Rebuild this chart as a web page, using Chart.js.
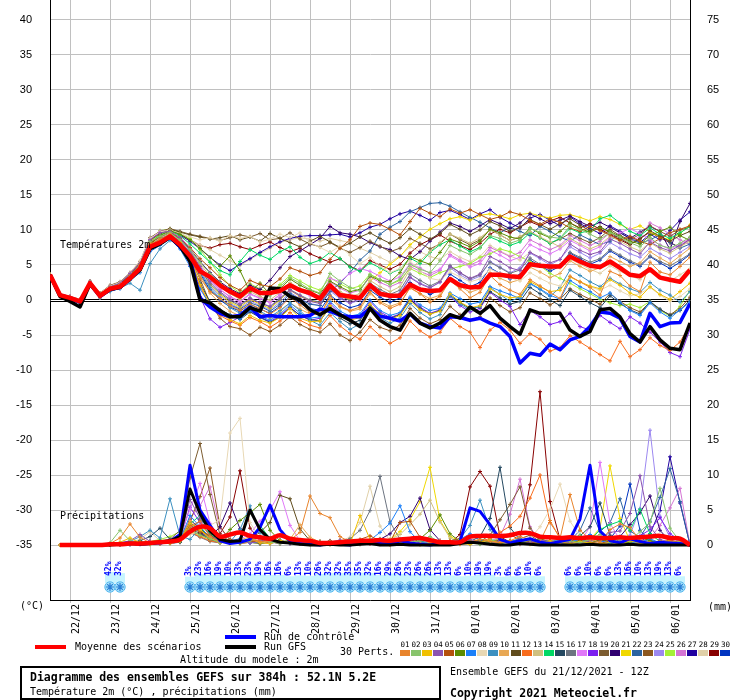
<!DOCTYPE html>
<html><head><meta charset="utf-8">
<script src="https://cdn.jsdelivr.net/npm/chart.js@4.4.0/dist/chart.umd.min.js"></script>
<style>
html,body{margin:0;padding:0;background:#fff;}
#wrap{position:relative;width:740px;height:700px;overflow:hidden;background:#fff;}
#c{position:absolute;left:0;top:0;}
.t{position:absolute;font-family:"DejaVu Sans Mono",monospace;font-size:10px;line-height:12px;color:#000;white-space:nowrap;}
.b{font-weight:bold;font-size:11.5px;line-height:14px;}
.ln{position:absolute;height:4px;}
.sw{position:absolute;width:10px;height:6px;top:650px;}
.nm{position:absolute;top:641px;width:12px;text-align:center;font-family:"DejaVu Sans Mono",monospace;font-size:7.5px;line-height:8px;color:#000;}
#box{position:absolute;left:20px;top:666px;width:421px;height:34px;border:2px solid #000;box-sizing:border-box;}
</style></head><body>
<div id="wrap">
<canvas id="c" width="740" height="700"></canvas>
<div class="t" style="left:60px;top:239px;">Températures 2m</div>
<div class="t" style="left:60px;top:510px;">Précipitations</div>
<div class="t" style="left:20px;top:600px;">(°C)</div>
<div class="t" style="left:708px;top:601px;">(mm)</div>
<div class="ln" style="left:35px;top:645px;width:31px;background:#ff0000;"></div>
<div class="t" style="left:75px;top:641px;">Moyenne des scénarios</div>
<div class="ln" style="left:225px;top:635px;width:31px;background:#0000ff;"></div>
<div class="t" style="left:264px;top:631px;">Run de contrôle</div>
<div class="ln" style="left:225px;top:645px;width:31px;background:#000;"></div>
<div class="t" style="left:264px;top:641px;">Run GFS</div>
<div class="t" style="left:340px;top:646px;">30 Perts.</div>
<div class="t" style="left:180px;top:654px;">Altitude du modele : 2m</div>
<div id="box"></div>
<div class="t b" style="left:30px;top:670px;">Diagramme des ensembles GEFS sur 384h : 52.1N 5.2E</div>
<div class="t" style="left:30px;top:686px;">Température 2m (°C) , précipitations (mm)</div>
<div class="t" style="left:450px;top:666px;">Ensemble GEFS du 21/12/2021 - 12Z</div>
<div class="t b" style="left:450px;top:686px;">Copyright 2021 Meteociel.fr</div>
</div>
<script>
// ---- categories / ticks ----
const dayLabels = ["22/12","23/12","24/12","25/12","26/12","27/12","28/12","29/12","30/12","31/12","01/01","02/01","03/01","04/01","05/01","06/01"];
const dayTickSteps = [2,6,10,14,18,22,26,30,34,38,42,46,50,54,58,62];
const tempTicks = [-35,-30,-25,-20,-15,-10,-5,0,5,10,15,20,25,30,35,40];
const mmTicks = [0,5,10,15,20,25,30,35,40,45,50,55,60,65,70,75];
const memberNames = ["01","02","03","04","05","06","07","08","09","10","11","12","13","14","15","16","17","18","19","20","21","22","23","24","25","26","27","28","29","30"];
const memberColors = ["#e8842c","#88c46c","#f0c000","#8c54b0","#b4500c","#5c8c00","#1c80f8","#e8d8b4","#3c90c0","#e8a854","#604c1c","#f86c1c","#d0c080","#00d864","#244860","#6c7480","#e078f8","#7c20f0","#7c5c30","#300070","#f0d800","#2c64a0","#8c5820","#9c88f0","#a4f038","#d474d4","#2000a0","#e0d0a8","#880000","#0034c0"];

// ---- temperature (°C), 6-hourly steps 0..64 ----
const meanT = [3.6,0.7,0.3,-0.2,2.4,0.6,1.6,1.9,3.1,4.5,7.6,8.2,9.1, 7.9,6.3,4.1,3.3,2.1,1.2,0.5,1.7,1.0,1.0,1.3,2.1,1.4, 1.0,0.2,2.1,0.7,0.5,0.3,2.1,0.9,0.6,0.6,2.2,1.5,1.3, 1.4,3.0,2.1,1.8,1.9,3.6,3.6,3.4,3.3,5.1,4.9,4.8,4.8, 6.2,5.5,4.9,4.7,5.5,4.6,3.6,3.4,4.4,3.2,2.9,2.6,4.3];
const ctrlT = [3.6,0.6,0.2,-0.3,2.3,0.5,1.5,1.8,3.0,4.4,7.4,8.1,9.0, 7.6,5.9,0.3,-1.0,-1.9,-2.4,-2.2,-1.0,-2.4,-2.2,-2.4,-2.4,-2.4, -2.2,-1.3,-1.6,-2.2,-2.4,-2.4,-1.2,-2.3,-2.6,-3.0,-2.0,-3.3,-3.8, -4.0,-2.4,-2.5,-2.9,-2.6,-3.3,-3.8,-5.2,-9.0,-7.6,-7.9,-6.3,-7.1, -5.7,-5.2,-3.8,-1.7,-1.9,-2.6,-5.2,-6.0,-1.9,-3.8,-3.3,-3.2,-0.5];
const gfsT = [3.6,0.5,-0.2,-1.0,2.3,0.6,1.5,1.8,3.0,4.3,7.3,8.0,9.0, 7.7,5.5,0.0,-0.4,-1.5,-2.4,-2.4,-1.1,-1.6,1.7,1.6,0.5,0.0, -1.4,-2.1,-1.2,-2.1,-2.9,-3.8,-1.2,-2.9,-3.8,-4.3,-1.9,-3.3,-4.0, -3.3,-2.1,-2.6,-1.0,-1.9,-0.8,-2.6,-3.8,-4.9,-1.4,-1.9,-1.9,-1.9, -4.3,-5.2,-4.5,-1.4,-1.2,-2.4,-4.8,-6.0,-3.8,-5.7,-6.9,-7.1,-3.3];
const t01 = [3.6,0.8,0.2,-0.3,2.5,0.4,1.8,2.2,3.3,4.9,8.0,8.6,9.4, 8.1,6.0,3.1,1.2,0.2,-0.8,-1.5,-0.6,-1.2,-2.0,-1.1,0.4,-0.7, -1.8,-2.2,0.6,-0.9,-1.5,-1.0,1.2,-0.4,-1.2,-0.6,1.8,0.9,-0.3, 0.5,2.8,1.6,0.3,1.1,3.5,2.2,1.4,0.8,2.9,2.0,1.1,0.2, 3.4,2.6,1.8,0.7,4.1,3.5,2.0,1.2,5.4,4.0,3.6,4.8,6.1];
const t02 = [3.6,0.6,0.4,-0.1,2.3,0.7,1.5,2.0,3.4,5.0,8.3,9.1,9.6, 8.6,7.2,5.4,3.8,2.5,1.2,0.4,1.6,0.8,0.6,1.9,3.2,2.4, 1.5,1.0,3.8,2.7,1.8,1.3,3.6,2.9,2.2,3.0,5.1,4.4,3.9, 5.6,7.8,7.1,6.5,7.4,9.2,8.8,8.1,8.6,10.2,9.7,9.0,8.8, 10.6,10.1,9.4,8.7,9.6,9.0,8.2,7.6,8.9,7.8,7.4,8.1,9.0];
const t03 = [3.6,0.7,0.1,-0.4,2.2,0.5,1.4,1.8,2.9,4.2,7.4,8.4,9.3, 8.2,6.1,2.2,-0.6,-1.9,-2.8,-3.4,-2.2,-2.9,-3.3,-2.5,-1.2,-2.6, -3.1,-3.0,-0.8,-2.4,-2.9,-2.5,-0.6,-2.1,-2.8,-2.2,-0.1,-1.4,-2.0, -1.6,0.9,-0.3,-1.1,-0.8,1.6,0.8,0.3,0.5,2.6,1.9,1.2,1.4, 3.3,2.6,2.0,1.6,2.9,2.1,1.0,0.4,1.9,0.8,0.1,1.2,2.4];
const t04 = [3.6,0.9,0.5,0.0,2.6,0.8,1.9,2.4,3.8,5.2,8.6,9.6,9.8, 8.9,7.0,4.8,2.6,1.2,0.1,-0.6,0.2,-0.4,-0.9,0.3,1.4,0.6, -0.2,-0.5,1.5,0.4,-0.4,0.2,2.0,1.1,0.3,0.9,3.2,2.3,1.7, 2.6,4.8,3.9,3.1,3.7,6.2,5.5,4.6,4.2,6.8,6.1,5.3,5.8, 8.0,7.1,6.5,6.9,8.7,8.1,7.3,6.6,8.3,7.5,7.0,7.8,8.6];
const t05 = [3.6,0.7,0.4,-0.2,2.4,0.9,1.7,2.1,3.5,5.1,8.2,9.0,9.7, 8.8,7.5,5.9,4.6,3.2,2.1,1.4,2.8,2.2,1.9,3.0,4.6,4.1, 3.5,3.9,5.8,7.4,8.6,10.5,11.0,10.8,10.1,9.3,11.2,13.1,12.4, 11.9,13.0,12.4,12.9,12.2,11.5,11.9,12.6,12.2,11.4,10.8,11.6,11.1, 10.3,9.8,10.5,9.9,9.3,8.5,9.1,8.4,7.9,8.8,9.6,10.1,10.6];
const t06 = [3.6,0.6,0.2,-0.3,2.3,0.5,1.6,2.0,3.2,4.6,7.9,9.2,9.9, 9.4,8.6,7.4,6.1,4.8,6.3,4.2,1.2,2.4,0.8,1.6,3.0,2.1, 1.4,0.9,2.7,1.9,1.2,1.5,3.4,2.8,2.6,3.9,6.2,5.6,5.1, 6.8,8.7,8.2,7.6,8.4,10.1,9.6,9.0,8.7,10.3,9.5,8.9,9.8, 11.0,10.2,9.7,10.3,9.8,9.1,8.4,8.0,9.2,9.8,10.4,9.2,8.5];
const t07 = [3.6,0.5,0.0,-0.5,2.1,0.3,1.3,1.6,2.8,3.9,6.9,7.8,8.7, 7.3,4.8,1.6,-0.7,-1.6,-2.3,-2.7,-1.5,-2.3,-2.9,-2.0,-0.7,-1.9, -2.6,-2.4,-0.2,-1.6,-2.3,-2.0,0.0,-1.5,-2.2,-1.8,0.4,-0.7,-1.5, -1.2,1.0,0.2,-0.6,-0.3,1.9,1.3,0.8,0.2,2.4,1.6,0.7,0.1, 2.8,1.9,1.2,0.3,1.0,-0.3,-1.5,-2.2,-0.4,-1.7,-2.6,-1.4,-0.3];
const t08 = [3.6,0.8,0.5,0.1,2.6,1.0,2.0,2.5,3.9,5.6,8.8,9.7,10.0, 9.5,9.0,8.6,8.9,8.4,9.2,8.8,9.1,8.3,8.7,9.4,8.9,9.6, 8.2,7.5,6.8,7.7,6.4,5.2,6.1,4.8,3.9,4.5,5.6,4.2,3.1, 2.8,4.0,3.3,2.6,3.0,4.4,3.8,3.2,2.7,3.9,3.1,2.4,2.0, 3.3,2.6,1.9,1.4,2.1,1.3,0.6,0.9,1.8,0.7,-0.2,0.5,1.6];
const t09 = [3.6,0.6,0.3,-0.2,2.4,0.4,1.2,1.7,2.4,1.4,5.2,7.3,8.5, 7.9,6.9,4.0,1.8,0.3,-1.1,-1.9,-0.8,-1.6,-2.4,-1.5,-0.4,-1.5, -2.9,-3.6,-1.8,-3.1,-4.2,-3.4,-1.3,-2.5,-3.3,-2.6,-0.5,-1.8,-2.7, -2.1,0.6,-0.6,-1.4,-0.9,1.8,0.8,-0.2,0.4,2.3,1.5,0.5,1.8, 4.3,3.5,2.6,1.9,3.1,2.3,1.6,1.1,2.5,1.4,0.7,-0.3,1.2];
const t10 = [3.6,0.7,0.3,-0.1,2.5,0.6,1.6,2.0,3.1,4.5,7.7,8.6,9.2, 8.3,6.6,3.6,1.0,-0.5,-1.6,-2.3,-1.2,-1.8,-2.6,-1.7,-0.4,-1.3, -2.0,-2.1,0.2,-1.0,-1.6,-1.3,0.9,-0.2,-0.9,-0.4,1.7,0.9,0.2, 0.7,2.9,2.0,1.1,1.6,3.9,3.1,2.5,2.9,4.7,4.0,3.2,3.8, 5.6,4.8,4.1,4.6,6.2,5.5,4.8,5.3,6.9,6.0,5.2,6.3,7.4];
const t11 = [3.6,0.8,0.4,0.0,2.6,0.9,1.9,2.3,3.6,5.3,8.5,9.5,10.1, 9.7,9.3,9.0,8.7,8.9,9.2,8.6,9.0,8.4,9.5,8.8,8.2,7.6, 8.4,9.1,8.3,7.5,8.1,9.0,9.6,8.8,8.1,8.9,10.2,9.4,8.7, 9.5,10.8,10.1,9.3,10.0,11.2,10.6,9.8,10.4,11.5,10.8,10.1,10.9, 11.6,10.7,9.9,10.5,9.6,8.8,8.0,8.7,9.9,9.1,8.4,9.2,9.8];
const t12 = [3.6,0.5,0.1,-0.4,2.2,0.3,1.3,1.7,2.9,4.3,7.5,8.3,9.0, 7.6,5.2,2.0,-0.9,-2.2,-3.0,-3.6,-2.5,-3.1,-3.9,-3.0,-1.8,-2.9, -3.6,-4.0,-2.2,-3.7,-4.8,-5.6,-3.8,-5.1,-6.2,-5.4,-3.0,-4.4,-5.3, -4.6,-2.6,-3.8,-4.6,-6.8,-4.3,-3.2,-4.3,-6.2,-4.8,-5.6,-7.3,-6.8, -5.1,-6.0,-6.9,-7.8,-8.7,-5.9,-8.1,-7.1,-5.4,-6.5,-7.2,-6.0,-3.5];
const t13 = [3.6,0.7,0.3,-0.2,2.4,0.7,1.7,2.1,3.3,4.8,8.0,8.9,9.5, 8.6,7.1,5.2,3.4,2.0,0.9,0.1,1.2,0.5,0.0,1.1,2.5,1.6, 0.8,0.4,2.3,1.2,0.5,0.9,2.8,1.9,1.2,1.9,4.4,5.6,6.9, 8.2,9.4,8.8,8.1,8.9,10.0,9.3,8.5,9.1,9.8,9.0,8.3,7.6, 8.8,8.0,7.3,7.9,9.1,8.4,7.6,7.0,8.2,7.3,6.7,7.6,8.4];
const t14 = [3.6,0.8,0.4,-0.1,2.5,0.8,1.8,2.3,3.5,5.0,8.2,9.3,9.9, 9.2,8.0,6.7,5.4,4.2,3.6,5.5,7.2,6.4,5.8,6.9,7.6,6.1, 5.2,5.7,6.8,5.9,4.7,4.1,5.3,4.6,3.8,4.4,6.0,5.2,6.8, 7.9,8.6,7.7,6.9,7.5,9.0,8.4,7.8,8.3,9.6,8.9,8.1,8.8, 10.2,9.6,9.9,11.6,12.1,11.0,9.8,9.2,10.3,9.4,8.8,9.6,10.5];
const t15 = [3.6,0.6,0.2,-0.3,2.3,0.5,1.5,1.9,3.0,4.4,7.6,8.5,9.2, 8.0,5.6,2.4,-0.3,-1.4,-2.1,-2.8,-1.7,-2.5,-3.2,-2.4,-1.1,-2.2, -2.8,-3.0,-1.0,-2.6,-3.4,-2.9,-0.8,-2.0,-2.6,-2.1,0.1,-1.2,-2.0, -1.5,0.7,-0.4,-1.2,-1.0,1.2,0.3,-0.6,-0.2,1.8,0.9,0.0,-0.8, 1.4,0.5,-0.4,-1.1,0.6,-0.5,-1.4,-2.0,-0.2,-1.3,-2.2,-1.5,0.0];
const t16 = [3.6,0.7,0.2,-0.2,2.4,0.6,1.6,2.0,3.2,4.6,7.8,8.7,9.4, 8.4,6.8,4.5,2.3,1.0,-0.1,-0.8,0.3,-0.4,-1.0,0.1,1.5,0.7, 0.0,-0.3,1.7,0.6,-0.1,0.4,2.4,1.5,0.8,1.4,3.7,2.8,2.0, 2.7,4.9,3.9,3.0,3.6,5.4,4.6,3.8,4.3,6.0,5.1,4.4,5.0, 6.8,6.1,5.4,5.9,7.2,6.4,5.6,5.0,6.3,5.5,4.9,5.7,6.6];
const t17 = [3.6,0.9,0.5,0.0,2.6,0.8,1.8,2.4,3.7,5.4,8.7,9.8,10.0, 9.1,7.4,5.0,2.9,1.5,0.4,-0.3,0.8,0.2,-0.4,0.7,2.0,1.3, 0.6,0.3,3.1,2.6,3.8,4.5,4.1,3.4,2.7,3.3,5.2,4.6,3.8, 4.4,6.3,5.5,4.7,5.2,7.1,6.4,5.6,6.1,7.9,7.2,6.6,7.3, 8.5,7.8,7.0,7.6,8.9,9.6,10.2,9.5,8.6,7.9,7.2,8.0,8.8];
const t18 = [3.6,0.6,0.1,-0.4,2.2,0.4,1.4,1.9,3.2,4.7,8.1,9.0,9.6, 8.2,5.0,0.5,-2.7,-3.9,-3.2,-2.4,-1.6,-2.4,-3.1,-2.2,-1.0,-2.2, -2.9,-2.6,-0.5,-1.9,-2.7,-2.3,-0.2,-1.7,-2.5,-2.0,0.2,-1.0,-1.9, -1.4,0.5,-0.8,-1.7,-1.2,1.1,0.0,-0.9,-3.5,-1.5,-2.4,-3.5,-3.1, -1.9,-3.8,-4.3,-2.2,-3.2,-4.1,-2.4,-3.3,-4.6,-6.0,-7.5,-8.1,-4.2];
const t19 = [3.6,0.8,0.5,0.1,2.7,1.0,2.1,2.6,3.9,5.5,8.9,9.8,10.2, 9.8,9.4,9.1,8.8,8.5,8.9,9.3,9.0,9.5,8.6,8.8,9.6,8.7, 8.0,7.6,8.2,7.4,6.8,7.5,8.4,7.7,6.9,7.4,8.8,8.1,7.3, 8.0,9.4,8.6,7.9,8.6,10.1,9.3,8.5,9.0,9.7,8.9,8.1,8.7, 9.5,8.8,8.2,8.9,10.1,9.2,8.6,9.4,10.6,9.8,9.1,10.0,10.4];
const t20 = [3.6,0.7,0.3,-0.1,2.5,0.8,1.8,2.2,3.4,4.9,8.1,9.0,9.6, 8.7,7.3,5.5,3.9,2.6,1.6,0.9,2.1,1.5,2.8,4.6,6.2,7.0, 7.9,8.8,10.5,9.6,9.4,9.0,8.2,7.6,7.2,6.3,5.8,6.9,8.4, 9.7,11.0,10.5,9.8,10.6,11.5,10.9,10.2,11.0,12.3,11.6,10.9,11.4, 12.0,11.2,10.5,11.1,10.4,9.6,8.8,9.7,10.5,9.8,7.2,11.2,13.8];
const t21 = [3.6,0.8,0.4,0.0,2.5,0.7,1.7,2.2,3.4,5.1,8.4,9.4,9.9, 9.0,7.2,4.6,2.2,0.8,-0.3,-1.0,0.1,-0.6,-1.2,0.0,1.4,0.5, -0.1,-0.4,1.6,0.6,0.1,0.5,2.7,3.9,5.1,6.2,7.9,9.0,10.1, 10.9,11.6,11.9,11.4,12.1,12.3,12.0,11.6,12.2,12.4,12.0,11.7,12.1, 12.2,11.8,11.3,11.9,11.5,10.8,10.1,10.6,9.7,9.0,8.6,9.5,10.7];
const t22 = [3.6,0.6,0.2,-0.3,2.3,0.6,1.5,1.9,3.1,4.4,7.6,8.6,9.3, 8.1,6.2,3.5,1.4,0.2,-0.7,-1.3,-0.4,-0.9,-1.6,-0.6,0.9,0.1, -0.6,-0.8,1.2,2.4,3.9,5.7,7.0,9.4,10.4,11.2,12.6,13.2,13.8, 13.9,13.4,12.6,11.8,11.1,10.3,9.6,10.4,9.8,9.2,10.5,9.8,9.0, 8.4,9.3,8.6,7.9,8.4,9.6,8.8,8.1,8.6,9.3,8.2,7.4,8.0];
const t23 = [3.6,0.7,0.3,-0.2,2.4,0.6,1.6,2.0,3.2,4.6,7.8,8.7,9.3, 8.0,6.0,3.0,-0.4,-2.6,-3.8,-4.1,-5.0,-3.9,-4.5,-3.6,-2.4,-3.5, -4.2,-4.6,-3.4,-5.0,-5.8,-4.6,-2.8,-3.9,-4.4,-3.6,-1.2,-2.6,-3.4, -2.8,-0.9,-2.1,-2.9,-2.4,0.3,-0.8,-1.7,-1.1,1.0,0.2,-0.7,0.1, 1.6,0.8,0.1,-0.6,0.9,-0.2,-1.1,-1.7,-0.3,-1.4,-2.1,-1.2,0.4];
const t24 = [3.6,0.8,0.3,-0.1,2.5,0.7,1.7,2.1,3.3,4.8,8.0,8.9,9.5, 8.5,6.7,4.2,2.0,0.6,-0.5,-1.2,-0.1,-0.8,-1.4,-0.3,1.1,0.2, -0.5,-0.8,1.3,0.2,-0.5,0.0,2.1,1.0,0.3,1.0,3.3,2.4,1.8, 2.5,4.6,3.6,2.8,3.4,5.5,4.7,3.9,4.6,6.7,5.9,5.0,5.8, 7.6,6.8,6.0,6.7,8.2,7.4,6.6,6.1,7.4,6.6,5.9,6.8,7.7];
const t25 = [3.6,0.9,0.4,0.0,2.6,0.9,1.9,2.4,3.7,5.3,8.7,9.9,10.1, 9.6,8.8,7.2,5.4,3.6,2.0,1.0,2.3,1.6,1.0,2.2,3.5,2.7, 1.9,1.4,3.2,2.3,1.6,2.0,3.7,2.9,2.2,2.8,4.5,3.8,3.2, 3.9,4.4,4.8,5.2,6.1,6.6,7.3,6.9,6.2,5.5,4.9,3.8,3.1, 2.4,1.6,0.9,0.1,-0.4,-0.8,-0.6,-1.1,-0.2,-1.5,-2.3,-0.9,1.4];
const t26 = [3.6,0.7,0.3,-0.2,2.4,0.6,1.6,2.0,3.2,4.6,7.9,8.8,9.4, 8.4,6.9,4.7,2.8,1.5,0.5,-0.2,0.9,0.3,-0.3,0.8,2.2,1.5, 0.9,0.6,2.6,1.7,1.0,1.4,3.3,2.5,1.9,2.5,4.8,4.1,3.5, 4.2,6.5,5.7,5.0,5.6,7.5,6.9,6.2,6.8,8.6,7.9,7.2,7.8, 9.2,8.5,7.8,8.4,9.6,9.0,8.3,9.1,11.0,10.3,9.4,8.6,7.9];
const t27 = [3.6,0.8,0.4,0.0,2.6,0.9,1.9,2.4,3.7,5.3,8.6,9.6,10.0, 9.3,8.4,7.3,6.1,5.0,4.2,5.1,5.9,6.8,7.6,8.3,8.8,9.1, 9.2,9.2,9.3,9.4,9.0,9.6,10.4,10.8,11.6,12.3,12.7,12.1,11.4, 12.5,12.8,12.2,11.5,12.3,12.9,11.8,11.0,10.3,11.7,12.2,11.4,10.6, 11.9,10.9,10.2,9.5,10.6,9.8,9.0,8.2,9.4,8.6,9.9,11.4,12.6];
const t28 = [3.6,0.7,0.4,0.0,2.5,0.8,1.8,2.3,3.5,5.0,8.3,9.2,9.7, 9.1,8.5,7.9,7.2,6.4,5.6,4.9,5.8,6.6,7.4,8.2,8.6,8.9, 8.7,8.4,8.8,8.5,8.2,7.4,6.8,6.1,5.4,6.3,7.6,6.9,6.2, 5.8,6.9,6.1,5.5,6.2,7.8,7.0,6.3,5.7,6.8,6.0,5.3,4.6, 5.9,5.1,4.4,3.8,4.9,4.1,3.5,2.9,4.2,3.4,2.7,3.6,4.5];
const t29 = [3.6,0.8,0.5,0.0,2.6,0.9,1.9,2.4,3.7,5.4,8.7,9.7,10.0, 9.4,8.6,7.8,7.4,7.9,8.1,7.6,7.2,7.8,8.3,7.5,6.9,7.4, 6.6,6.0,5.4,5.9,4.8,4.2,5.6,5.0,4.4,5.1,6.7,7.9,8.6, 9.3,8.4,7.8,7.2,8.1,9.4,10.1,9.6,10.4,11.2,10.6,11.3,11.8, 11.0,10.3,10.9,10.1,9.4,8.6,7.9,8.8,9.7,8.9,8.2,7.5,8.9];
const t30 = [3.6,0.6,0.2,-0.3,2.3,0.5,1.5,1.9,3.1,4.5,7.7,8.5,9.2, 8.3,6.4,3.8,1.5,0.0,-1.0,-1.6,-0.6,-1.3,-1.9,-0.9,0.5,-0.5, -1.2,-1.5,0.7,-0.4,-1.1,-0.7,1.4,0.4,-0.3,0.3,2.5,1.6,0.8, 1.4,3.7,2.8,1.9,2.5,4.6,3.8,3.0,3.6,5.7,4.9,4.1,4.8, 6.7,5.9,5.1,5.7,7.0,6.2,5.4,4.8,6.2,5.3,4.5,5.4,6.5];

// ---- precipitation (mm / 6h), steps 0..64 (step 0 not drawn) ----
const meanP = [0,0,0,0,0,0,0.1,0.1,0.2,0.2,0.3,0.4,0.5, 0.8,1.9,2.6,2.4,1.2,1.5,1.8,1.3,1.1,0.9,1.4,0.9,0.7, 0.6,0.3,0.3,0.4,0.5,0.6,0.6,0.7,0.6,0.8,0.9,1.0,0.7, 0.4,0.4,0.4,1.2,1.3,1.3,1.3,1.4,1.7,1.7,1.2,1.1,1.0, 1.1,1.0,1.1,1.0,1.0,1.1,1.0,1.1,1.2,1.3,1.0,0.9,0.0];
const ctrlP = [0,0,0,0,0,0,0.1,0.2,0.3,0.1,0.2,0.3,0.5, 1.5,11.4,5.0,2.8,0.6,0.2,0.4,0.8,2.5,5.7,2.2,0.5,0.2, 0.1,0,0.2,0.1,0,0.3,0.5,0.2,0.1,0.6,0.3,0.1,0, 0.2,0.1,0.5,5.3,4.8,2.9,0.8,0.3,0.6,0.9,0.4,0.2,0.5, 0.8,3.7,11.4,2.0,0.6,0.3,0.9,0.5,0.2,0.4,0.3,0.2,0];
const gfsP = [0,0,0,0,0,0,0,0.1,0.2,0.1,0.2,0.4,0.6, 1.2,8.0,4.5,2.0,0.8,0.5,0.6,5.0,2.2,0.8,0.4,0.3,0.1, 0,0,0.1,0,0,0.1,0.2,0,0,0.1,0,0,0, 0,0,0.2,0.4,0.3,0.1,0,0,0.2,0.1,0,0,0, 0,0,0.1,0,0,0,0.1,0,0,0,0,0,0];
const p01 = [0,0,0,0,0,0,0.2,1.0,3.0,1.1,0.3,0.2,0.4, 0.9,2.6,3.4,1.2,0.5,0.3,0.4,0.8,0.5,0.6,1.3,0.7,1.8, 7.0,4.5,3.9,1.2,0.4,0.2,0.3,0.1,0,0.2,0.4,0.1,0.3, 0.6,0.2,0.1,0.4,0.8,0.5,0.3,0.6,1.2,0.8,0.5,3.5,0.9, 7.2,2.1,0.8,0.4,2.2,3.0,2.5,0.7,0.3,0.2,0.5,0.3,0];
const p02 = [0,0,0,0,0,0,0.3,2.1,0.6,0.2,0.1,0.3,0.5, 0.7,2.2,1.4,0.9,0.3,0.5,0.2,0.6,1.1,0.4,0.3,0.8,0.5, 0.2,0.4,0.1,0.3,0.6,0.2,0.5,0.9,0.3,0.2,0.4,0.6,1.2, 0.4,0.2,0.8,0.3,0.1,0.5,0.9,0.4,0.3,0.7,0.5,0.2,0.4, 0.6,0.3,0.8,1.5,0.4,0.9,0.6,1.9,3.2,8.1,2.4,0.5,0];
const p03 = [0,0,0,0,0,0,0.1,0.4,1.0,0.3,0.1,0.2,0.3, 0.6,3.1,2.2,1.0,0.4,0.2,0.5,0.9,0.3,0.2,0.6,0.4,0.2, 0.1,0.3,0.5,0.2,0.1,4.2,0.8,0.3,0.2,0.5,0.3,0.1,0.2, 0.3,0.6,0.2,0.1,0.4,0.7,0.3,0.5,0.2,0.1,0.3,0.6,0.4, 0.2,0.5,0.3,0.1,0.4,0.2,0.6,0.3,0.1,0.4,0.6,0.3,0];
const p04 = [0,0,0,0,0,0,0.1,0.3,0.6,1.5,0.5,0.2,0.4, 1.1,6.5,3.8,1.2,0.6,0.4,0.8,0.3,0.5,0.9,0.4,0.2,0.6, 0.3,0.1,0.4,0.7,0.2,0.1,0.3,0.5,0.2,0.4,0.8,0.3,0.1, 0.2,0.5,0.3,0.8,0.4,0.2,0.6,0.3,0.1,0.4,0.7,0.5,0.2, 0.4,0.3,0.6,0.9,1.8,2.0,4.5,9.9,2.6,0.8,0.4,0.3,0];
const p05 = [0,0,0,0,0,0,0,0.2,0.5,0.3,0.2,0.4,0.6, 0.9,2.8,1.9,1.4,0.5,0.8,0.3,0.6,0.4,1.0,0.5,0.3,0.2, 0.4,0.2,0.1,0.3,0.5,0.8,1.3,0.6,0.4,3.2,3.4,1.1,0.5, 0.3,0.6,0.9,0.4,0.2,0.5,0.8,1.5,0.7,0.4,0.2,0.6,0.3, 0.5,1.1,0.4,0.2,0.6,0.3,0.8,0.5,0.2,0.4,0.7,0.3,0];
const p06 = [0,0,0,0,0,0,0,0.1,0.3,0.5,0.2,0.4,0.3, 0.6,1.8,2.4,1.0,0.7,2.2,3.5,4.6,5.8,2.1,0.6,0.3,0.5, 0.2,0.4,0.1,0.3,0.2,0.6,0.4,0.8,0.3,0.5,0.2,0.9,2.1, 4.3,1.6,0.5,0.3,0.8,0.4,0.2,0.6,0.3,0.5,0.9,0.4,0.2, 0.3,0.6,0.2,0.8,0.5,0.3,0.4,1.1,0.6,0.2,0.5,0.3,0];
const p07 = [0,0,0,0,0,0,0,0.2,0.1,0.3,0.2,0.5,0.4, 0.8,4.2,2.6,1.1,0.4,0.6,0.9,0.3,0.5,0.8,0.4,0.2,0.6, 0.3,0.1,0.4,0.2,0.5,0.3,0.7,1.8,3.1,5.6,1.9,0.4,0.2, 0.5,0.3,0.8,1.6,0.7,0.4,0.2,0.5,0.9,0.3,0.6,0.4,0.2, 0.4,0.8,1.5,0.6,0.3,0.5,0.2,0.4,0.9,0.3,0.6,0.2,0];
const p08 = [0,0,0,0,0,0,0,0.1,0.4,0.2,0.5,0.3,0.2, 0.6,1.5,2.0,2.8,3.6,16.0,18.1,3.2,1.0,0.5,0.3,0.6,0.2, 0.4,0.1,0.3,0.6,0.2,0.5,0.8,0.3,0.1,0.4,0.6,0.2,0.3, 0.5,0.2,0.4,0.8,0.3,0.6,0.2,0.4,0.7,0.9,2.6,5.1,8.7, 3.4,1.2,0.5,0.3,0.6,0.2,0.4,0.8,0.3,0.5,0.2,0.4,0];
const p09 = [0,0,0,0,0,0,0,0.2,0.5,1.2,2.1,1.0,6.6, 1.3,0.8,2.4,1.1,0.6,0.4,2.2,5.6,1.8,0.5,0.3,0.6,0.2, 0.1,0.4,0.3,0.2,0.6,0.3,0.5,0.2,0.4,0.8,0.3,0.1,0.5, 0.3,0.6,0.9,2.8,6.4,2.2,0.7,0.4,0.3,0.6,0.2,0.5,0.8, 0.4,0.9,0.3,0.6,0.2,0.5,0.3,0.4,0.8,0.2,0.5,0.3,0];
const p10 = [0,0,0,0,0,0,0.1,0.3,0.2,0.4,0.3,0.2,0.5, 0.8,3.5,2.1,0.9,0.5,0.3,0.7,1.2,0.4,0.6,0.3,0.8,2.9, 1.1,0.4,0.2,0.5,0.3,0.1,0.4,0.6,0.2,0.3,0.5,0.2,0.4, 0.6,0.3,0.2,0.5,0.8,0.4,0.3,0.6,0.2,0.4,0.9,0.3,0.5, 0.2,0.6,0.4,0.3,0.5,0.8,0.3,0.2,0.6,0.4,0.3,0.5,0];
const p11 = [0,0,0,0,0,0,0,0.1,0.3,0.2,0.4,0.6,0.3, 0.5,2.4,1.6,0.8,0.4,0.6,0.3,0.9,1.8,3.2,7.1,6.6,2.3, 0.6,0.3,0.2,0.4,0.1,0.3,0.5,0.2,0.4,0.6,0.3,0.2,0.5, 0.3,0.5,0.2,0.6,0.4,0.3,0.7,0.5,0.2,0.4,0.3,0.6,0.2, 0.4,0.3,0.6,0.2,0.5,0.3,0.4,0.2,0.6,0.3,0.5,0.2,0];
const p12 = [0,0,0,0,0,0,0,0.2,0.1,0.3,0.2,0.4,0.2, 0.5,1.9,1.2,0.6,0.3,0.5,0.2,0.4,0.6,0.3,0.5,0.2,0.4, 0.3,0.1,0.4,0.2,0.3,0.5,0.2,0.4,0.3,0.6,0.2,0.4,0.3, 0.2,0.5,0.3,0.4,0.6,0.9,1.8,2.7,4.1,6.7,10.0,3.2,1.1, 0.5,0.3,0.6,0.4,0.2,0.5,0.3,0.4,0.2,0.6,0.3,0.2,0];
const p13 = [0,0,0,0,0,0,0,0.1,0.3,0.5,0.2,0.3,0.4, 0.7,1.6,2.3,1.1,0.6,0.4,0.8,0.3,0.5,0.2,0.6,0.4,0.3, 0.2,0.5,0.3,0.6,0.2,0.4,0.3,0.5,0.8,1.5,2.9,4.4,6.4, 3.3,1.0,0.4,0.2,0.5,0.3,0.6,0.2,0.4,0.3,0.5,0.2,0.6, 0.3,0.5,0.2,0.4,0.6,0.3,0.2,0.5,0.3,0.4,0.2,0.6,0];
const p14 = [0,0,0,0,0,0,0,0.2,0.4,0.3,0.2,0.5,0.3, 0.6,3.0,4.2,1.5,0.8,0.4,0.7,0.5,2.8,0.9,0.4,0.6,0.3, 0.5,0.2,0.4,0.3,0.6,0.2,0.5,0.3,0.7,0.4,0.2,0.5,0.3, 0.4,0.6,0.3,0.5,0.2,0.8,0.4,0.6,0.3,0.5,0.9,0.4,0.6, 0.8,1.4,0.6,2.2,2.9,3.4,2.1,5.1,1.6,0.5,0.3,0.4,0];
const p15 = [0,0,0,0,0,0,0,0.1,0.3,0.6,1.2,2.4,0.8, 0.4,2.0,3.6,2.7,0.9,0.5,0.3,0.6,0.2,0.4,0.7,0.3,0.5, 0.2,0.4,0.3,0.6,0.2,0.5,0.3,0.4,0.2,0.6,0.3,0.5,0.2, 0.4,0.6,0.3,0.5,1.2,3.8,11.1,2.5,0.7,0.3,0.6,0.4,0.2, 0.5,1.3,2.6,6.0,1.4,0.4,0.3,0.6,0.2,0.5,0.3,0.4,0];
const p16 = [0,0,0,0,0,0,0,0.2,0.1,0.3,0.5,0.2,0.4, 0.6,1.8,1.1,0.5,0.3,0.6,0.2,0.4,0.3,0.5,0.2,0.4,0.6, 0.3,0.5,0.2,0.4,0.9,2.1,4.9,9.8,3.3,0.8,0.4,0.2,0.5, 0.3,0.6,0.2,0.4,0.5,0.3,0.6,0.2,0.4,0.3,0.5,0.2,0.4, 0.6,0.3,0.5,0.2,0.4,0.3,0.6,0.2,0.5,0.3,0.4,0.2,0];
const p17 = [0,0,0,0,0,0,0,0.1,0.3,0.2,0.4,0.3,0.5, 1.2,5.1,8.8,3.1,0.9,0.5,0.8,1.6,3.4,5.0,7.6,2.8,0.6, 0.3,0.5,0.2,0.4,0.3,0.6,0.2,0.4,0.5,0.3,0.2,0.6,0.4, 0.3,0.5,0.8,0.4,0.6,0.3,0.5,0.2,0.7,0.4,0.3,0.6,0.5, 0.8,0.4,2.6,11.8,3.1,0.7,0.4,0.3,0.5,0.2,0.6,0.3,0];
const p18 = [0,0,0,0,0,0,0,0.1,0.2,0.4,0.3,0.2,0.5, 0.9,5.4,3.2,1.4,0.6,0.3,0.5,0.8,0.4,0.6,0.3,0.5,0.2, 0.4,0.2,0.5,0.3,0.6,0.2,0.4,0.3,0.5,0.2,0.6,0.4,0.3, 0.2,0.5,0.3,0.6,0.4,0.2,0.5,0.3,0.6,0.4,0.2,0.5,0.3, 0.6,0.4,0.2,0.5,0.3,0.6,0.8,1.3,2.2,3.9,1.6,0.7,0];
const p19 = [0,0,0,0,0,0,0,0.1,0.3,0.2,0.4,0.6,0.8, 2.1,9.6,14.5,7.2,1.4,0.6,0.4,0.8,0.5,0.3,0.6,0.4,0.2, 0.5,0.3,0.6,0.2,0.4,0.3,0.5,0.2,0.6,0.3,0.4,0.2,0.5, 0.3,0.6,0.4,0.2,0.5,1.4,3.6,5.8,8.3,2.4,0.6,0.3,0.5, 0.2,0.6,0.4,0.3,0.5,0.2,0.4,0.6,0.3,0.5,0.2,0.4,0];
const p20 = [0,0,0,0,0,0,0,0.2,0.1,0.3,0.5,0.2,0.4, 0.7,2.4,1.8,1.1,2.6,6.0,2.3,0.7,0.4,0.6,0.3,0.5,0.2, 0.4,0.2,0.5,0.3,0.6,0.2,0.4,0.8,1.6,3.2,4.1,6.7,2.2, 0.6,0.3,0.5,0.2,0.4,0.6,0.3,0.5,0.2,0.4,0.6,0.3,0.5, 0.3,0.6,0.4,0.2,0.5,1.2,2.9,4.6,7.0,2.1,0.5,0.3,0];
const p21 = [0,0,0,0,0,0,0,0.2,0.4,0.3,0.2,0.5,0.3, 0.6,2.0,1.4,0.8,0.5,0.3,0.6,0.4,0.2,0.5,0.3,0.6,0.4, 0.2,0.5,0.3,0.4,0.2,0.6,0.3,0.5,0.8,1.9,3.6,6.2,11.1, 3.5,1.2,0.6,0.3,0.5,0.2,0.4,0.6,0.3,0.5,0.2,0.4,0.6, 0.3,0.5,0.8,2.4,11.3,3.8,0.6,0.3,0.5,0.2,0.4,0.3,0];
const p22 = [0,0,0,0,0,0,0,0.1,0.3,0.2,0.5,0.3,0.2, 0.4,2.9,1.7,0.9,0.5,0.3,0.6,0.4,0.2,0.5,0.3,0.6,0.2, 0.4,0.2,0.5,0.3,0.6,0.2,0.4,0.3,0.5,0.2,0.6,0.3,0.4, 0.2,0.5,0.3,0.6,0.4,0.2,0.5,0.3,0.6,0.4,0.2,0.5,0.3, 0.6,2.1,5.3,1.9,3.2,6.6,2.0,1.1,3.4,6.8,10.9,6.2,0];
const p23 = [0,0,0,0,0,0,0,0.2,0.3,0.2,0.4,0.6,0.3, 0.8,3.4,6.9,11.0,2.6,0.7,0.4,0.6,0.3,0.5,0.2,0.4,0.6, 0.3,0.5,0.2,0.4,0.3,0.6,0.2,0.5,0.3,0.4,0.6,0.2,0.5, 0.3,0.6,0.4,0.2,0.5,0.3,0.6,0.4,0.9,1.4,0.5,0.3,0.6, 0.4,0.2,0.5,0.3,0.6,0.4,0.2,0.5,0.3,0.6,0.4,0.2,0];
const p24 = [0,0,0,0,0,0,0,0.1,0.2,0.4,0.3,0.2,0.5, 0.6,2.3,1.5,0.8,0.4,0.6,0.3,0.5,0.2,0.4,0.6,0.3,0.5, 0.2,0.4,0.3,0.6,0.2,0.5,0.3,0.4,0.6,0.2,0.5,0.3,0.4, 0.6,0.3,0.5,0.2,0.4,0.6,0.3,0.5,0.2,0.4,0.6,0.3,0.5, 0.2,0.4,0.6,0.3,0.5,0.8,1.4,5.2,16.4,4.1,1.0,0.5,0];
const p25 = [0,0,0,0,0,0,0,0.2,0.4,0.3,0.5,0.8,1.2, 1.9,2.2,2.5,1.8,0.9,0.6,0.4,0.7,0.3,0.5,0.2,0.6,0.4, 0.3,0.5,0.2,0.4,0.6,0.3,0.5,0.2,0.4,0.3,0.6,0.2,0.5, 0.4,0.2,0.5,0.3,0.6,0.4,0.2,0.5,0.3,0.6,0.4,0.2,0.5, 0.3,0.6,0.4,0.2,0.5,0.3,0.6,0.4,0.2,0.5,0.3,0.6,0];
const p26 = [0,0,0,0,0,0,0,0.1,0.3,0.2,0.5,0.3,0.4, 0.7,3.8,5.6,8.3,2.4,0.8,0.5,0.3,0.6,0.4,0.2,0.5,0.3, 0.4,0.2,0.5,0.3,0.6,0.2,0.4,0.5,0.3,0.6,0.2,0.4,0.3, 0.5,0.2,0.4,0.6,0.3,0.5,1.2,4.4,9.4,2.6,0.5,0.3,0.6, 0.4,0.2,0.5,0.3,0.6,0.4,0.2,0.5,0.9,2.8,5.3,8.1,0];
const p27 = [0,0,0,0,0,0,0,0.2,0.3,0.1,0.4,0.2,0.5, 0.8,3.2,2.1,1.3,0.6,0.4,0.7,0.3,0.5,0.2,0.6,0.4,0.3, 0.5,0.2,0.4,0.6,0.3,0.5,0.2,0.4,0.3,0.6,0.2,0.5,0.3, 0.4,0.6,0.3,0.5,0.2,0.4,0.6,0.3,0.5,0.2,0.4,0.6,0.3, 0.5,0.2,0.4,0.6,0.3,0.5,0.8,0.4,1.6,4.9,12.6,6.0,0];
const p28 = [0,0,0,0,0,0,0,0.2,0.4,0.8,1.9,0.6,0.3, 0.5,1.7,1.2,0.8,0.4,0.6,0.3,0.5,0.2,0.4,0.6,0.3,0.5, 0.2,0.4,0.3,0.6,1.1,3.2,8.4,2.7,0.6,0.3,0.5,0.2,0.4, 0.3,0.5,0.2,0.4,0.6,0.3,0.5,0.2,0.4,0.6,0.3,0.5,0.2, 0.4,0.6,0.3,0.5,0.2,0.4,0.6,0.3,0.5,0.2,0.4,0.6,0];
const p29 = [0,0,0,0,0,0,0,0.1,0.3,0.2,0.4,0.3,0.5, 0.6,2.2,1.5,0.9,1.6,4.0,10.6,2.4,0.7,0.4,0.6,0.3,0.5, 0.2,0.4,0.3,0.6,0.2,0.5,0.3,0.4,0.6,0.2,0.5,0.3,0.4, 0.6,0.3,1.5,8.3,10.5,8.4,1.2,0.4,0.8,8.6,21.9,6.2,0.8, 0.4,0.2,0.6,0.3,0.5,0.4,0.2,0.6,0.3,0.5,0.2,0.4,0];
const p30 = [0,0,0,0,0,0,0,0.1,0.2,0.3,0.5,0.2,0.4, 0.9,3.6,2.4,1.2,0.5,0.3,0.6,0.4,0.2,0.5,0.3,0.6,0.2, 0.4,0.2,0.5,0.3,0.6,0.2,0.4,0.6,0.3,0.5,0.2,0.4,0.6, 0.3,0.5,0.2,0.4,0.6,0.3,0.5,0.2,0.4,0.6,0.3,0.5,0.2, 0.4,0.6,0.3,0.5,0.9,2.7,8.7,2.1,0.6,0.3,0.5,0.2,0];

// ---- snow probability (% of members), steps 0..64 ----
const snowPct = [null,null,null,null,null,null,42,32,null,null,null,null,null, null,3,23,16,19,10,13,23,19,16,16,6,13, 10,26,32,32,35,35,32,16,29,26,23,26,26, 13,13,6,10,19,19,3,6,6,10,6,null,null, 6,6,10,6,6,13,16,10,13,19,13,6,null];

const memberTemps = [t01,t02,t03,t04,t05,t06,t07,t08,t09,t10,t11,t12,t13,t14,t15,t16,t17,t18,t19,t20,t21,t22,t23,t24,t25,t26,t27,t28,t29,t30];
const memberPrecs = [p01,p02,p03,p04,p05,p06,p07,p08,p09,p10,p11,p12,p13,p14,p15,p16,p17,p18,p19,p20,p21,p22,p23,p24,p25,p26,p27,p28,p29,p30];

// ---- swatch legend (HTML) ----
(function(){
  const host = document.getElementById('wrap');
  memberNames.forEach((n,k)=>{
    const left = 400 + k*11.05;
    const s = document.createElement('div'); s.className='sw'; s.style.left=left+'px'; s.style.background=memberColors[k]; host.appendChild(s);
    const t = document.createElement('div'); t.className='nm'; t.style.left=(left-1)+'px'; t.textContent=n; host.appendChild(t);
  });
})();

const SNOW_ROW = -41; // °C-scale row where snow symbols sit
const toPts = (arr, skipFirst) => arr.map((v,i)=>({x:i, y:(skipFirst && i===0) ? null : v}));

const datasets = [];
datasets.push({data:toPts(meanT), yAxisID:'y', borderColor:'#ff0000', borderWidth:4.5, pointRadius:0, order:0});
datasets.push({data:toPts(gfsT), yAxisID:'y', borderColor:'#000000', borderWidth:3.5, pointRadius:0, order:1});
datasets.push({data:toPts(ctrlT), yAxisID:'y', borderColor:'#0000ff', borderWidth:3.5, pointRadius:0, order:2});
datasets.push({data:toPts(meanP,true), yAxisID:'y2', borderColor:'#ff0000', borderWidth:4.5, pointRadius:0, tension:0.35, order:0});
datasets.push({data:toPts(gfsP,true), yAxisID:'y2', borderColor:'#000000', borderWidth:3, pointRadius:0, order:1});
datasets.push({data:toPts(ctrlP,true), yAxisID:'y2', borderColor:'#0000ff', borderWidth:3, pointRadius:0, order:2});
memberTemps.forEach((arr,k)=>{
  datasets.push({data:toPts(arr), yAxisID:'y', borderColor:memberColors[k], borderWidth:1, pointStyle:'cross', pointRadius:2, pointBorderWidth:1, pointBorderColor:memberColors[k], order:3});
});
memberPrecs.forEach((arr,k)=>{
  datasets.push({data:toPts(arr,true), yAxisID:'y2', borderColor:memberColors[k], borderWidth:1, pointStyle:'cross', pointRadius:2, pointBorderWidth:1, pointBorderColor:memberColors[k], order:3});
});
const flakeData = snowPct.map((p,i)=> p==null ? null : {x:i, y:SNOW_ROW}).filter(Boolean);
datasets.push({data:flakeData, yAxisID:'y', showLine:false, pointStyle:'star', pointRadius:4, pointBorderWidth:1.2, pointBorderColor:'#2a7fd6', pointBackgroundColor:'#2a7fd6', order:4});
datasets.push({data:flakeData, yAxisID:'y', showLine:false, pointStyle:'circle', pointRadius:5.2, pointBorderWidth:1, pointBorderColor:'#5ab8ee', pointBackgroundColor:'#a6e2fb', order:5});

const zeroLine = {
  id:'zeroLine',
  beforeDatasetsDraw(chart){
    const {ctx, chartArea:a, scales:{y, x}} = chart;
    const py = Math.round(y.getPixelForValue(0));
    ctx.save();
    ctx.strokeStyle='#000'; ctx.lineWidth=1;
    ctx.beginPath();
    ctx.moveTo(a.left, py-0.5); ctx.lineTo(a.right, py-0.5);
    ctx.moveTo(a.left, py+1.5); ctx.lineTo(a.right, py+1.5);
    ctx.stroke();
    // light band behind snow labels
    const rowY = y.getPixelForValue(SNOW_ROW);
    ctx.fillStyle='#c8f4ff';
    snowPct.forEach((p,i)=>{
      if(p==null) return;
      const px = x.getPixelForValue(i);
      const h = 6 + p*0.12;
      ctx.fillRect(px-5, rowY-4-h, 10, h);
    });
    ctx.restore();
  },
  afterDatasetsDraw(chart){
    const {ctx, scales:{y, x}} = chart;
    const rowY = y.getPixelForValue(SNOW_ROW);
    ctx.save();
    ctx.fillStyle='#0000ff';
    ctx.font='bold 8px "DejaVu Sans Mono", monospace';
    ctx.textAlign='left'; ctx.textBaseline='middle';
    snowPct.forEach((p,i)=>{
      if(p==null) return;
      const px = x.getPixelForValue(i);
      ctx.save();
      ctx.translate(px-1, rowY-11);
      ctx.rotate(-Math.PI/2);
      ctx.fillText(p+'%', 0, 0);
      ctx.restore();
    });
    ctx.restore();
  }
};

new Chart(document.getElementById('c'), {
  type:'line',
  data:{datasets},
  plugins:[zeroLine],
  options:{
    responsive:false, animation:false,
    layout:{padding:0, autoPadding:false},
    plugins:{legend:{display:false}, tooltip:{enabled:false}},
    elements:{line:{tension:0, borderJoinStyle:'round'}},
    scales:{
      x:{type:'linear', min:0, max:64,
        afterBuildTicks:s=>{ s.ticks = dayTickSteps.map(v=>({value:v})); },
        afterFit:s=>{ s.height=100; s.paddingLeft=0; s.paddingRight=0; },
        ticks:{autoSkip:false, minRotation:90, maxRotation:90, labelOffset:6, padding:1,
          font:{family:'DejaVu Sans Mono', size:10}, color:'#000',
          callback:(v,i)=>dayLabels[i]},
        grid:{color:'#c0c0c0', lineWidth:1, drawTicks:true, tickLength:3, tickColor:'#c0c0c0'},
        border:{display:true, color:'#000', width:1}
      },
      y:{type:'linear', position:'left', min:-42.857, max:42.857,
        afterBuildTicks:s=>{ s.ticks = tempTicks.map(v=>({value:v})); },
        afterFit:s=>{ s.width=50; s.paddingTop=0; s.paddingBottom=0; },
        ticks:{padding:18, font:{family:'Liberation Sans', size:11}, color:'#000'},
        grid:{color:c=> (c.tick && c.tick.value===0) ? 'rgba(0,0,0,0)' : '#c0c0c0', lineWidth:1, drawTicks:false},
        border:{display:true, color:'#000', width:1}
      },
      y2:{type:'linear', position:'right', min:-7.857, max:77.857,
        afterBuildTicks:s=>{ s.ticks = mmTicks.map(v=>({value:v})); },
        afterFit:s=>{ s.width=50; s.paddingTop=0; s.paddingBottom=0; },
        ticks:{padding:17, font:{family:'Liberation Sans', size:11}, color:'#000'},
        grid:{drawOnChartArea:false, drawTicks:false},
        border:{display:true, color:'#000', width:1}
      }
    }
  }
});
</script>
</body></html>
